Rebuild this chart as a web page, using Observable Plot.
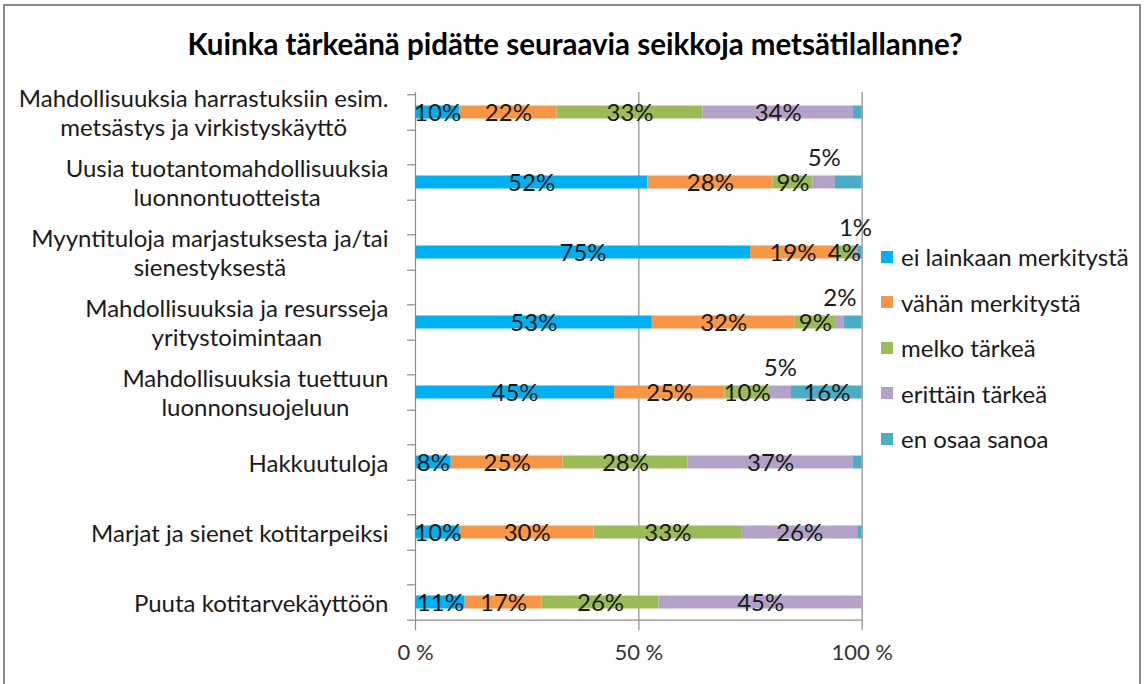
<!DOCTYPE html>
<html><head><meta charset="utf-8">
<script src="https://cdn.jsdelivr.net/npm/d3@7"></script>
<script src="https://cdn.jsdelivr.net/npm/@observablehq/plot@0.6"></script>
<style>
html,body{margin:0;padding:0;background:#fff;overflow:hidden}
#wrap{position:relative;width:1144px;height:684px;overflow:hidden;font-family:Lato,"Open Sans",sans-serif;color:#1a1a1a}
#frame{position:absolute;left:3px;top:4px;width:1138px;height:720px;border:2px solid #8a8a8a;box-sizing:border-box}
#title{position:absolute;left:0;width:1150px;top:28px;line-height:32px;text-align:center;font-weight:bold;font-size:29.5px;color:#000}
#chart{position:absolute;left:0;top:0}
#legend{position:absolute;left:881px;top:234px;font-size:24px}
.li{display:flex;align-items:center;height:45.5px;white-space:nowrap}
.sw{width:12px;height:12px;margin-right:8px;flex:none}
</style></head>
<body>
<div id="wrap">
  <div id="frame"></div>
  <div id="chart"></div>
  <div id="title">Kuinka tärkeänä pidätte seuraavia seikkoja metsätilallanne?</div>
  <div id="legend"></div>
</div>
<script>
// ---- data ----
const categories = [
  "Mahdollisuuksia harrastuksiin esim.\nmetsästys ja virkistyskäyttö",
  "Uusia tuotantomahdollisuuksia\nluonnontuotteista",
  "Myyntituloja marjastuksesta ja/tai\nsienestyksestä",
  "Mahdollisuuksia ja resursseja\nyritystoimintaan",
  "Mahdollisuuksia tuettuun\nluonnonsuojeluun",
  "Hakkuutuloja",
  "Marjat ja sienet kotitarpeiksi",
  "Puuta kotitarvekäyttöön"
];
const series = ["ei lainkaan merkitystä", "vähän merkitystä", "melko tärkeä", "erittäin tärkeä", "en osaa sanoa"];
const colors = ["#00B0F0", "#F79646", "#9BBB59", "#B3A2C7", "#4BACC6"];
const eiLainkaan = [10, 52, 75, 53, 45, 8, 10, 11];
const vahan      = [22, 28, 19, 32, 25, 25, 30, 17];
const melko      = [33, 9, 4, 9, 10, 28, 33, 26];
const erittain   = [34, 5, 1, 2, 5, 37, 26, 45];
const enOsaa     = [2, 6, 1, 4, 16, 2, 1, 0];
const xTicks = [0, 0.5, 1];
const xTickLabels = ["0 %", "50 %", "100 %"];

// ---- table ----
const seriesValues = [eiLainkaan, vahan, melko, erittain, enOsaa];
const rows = categories.flatMap((c, i) => series.map((s, j) => ({cat: c, series: s, value: seriesValues[j][i]})));

// label placement: small "erittäin tärkeä" values above the bar, small "en osaa sanoa" hidden
const labelAbove = d => d.series === series[3] && d.value < 8 && d.value > 0;
const labelInside = d => d.value > 0 && !labelAbove(d) && !(d.series === series[4] && d.value < 10);

const W = 1144, H = 684;
const left = 415, right = 861.7;
const tickLen = 8 / (right - left);
const labelFont = 24;
const ctx = document.createElement("canvas").getContext("2d");
ctx.font = `${labelFont}px Lato`;
const maxW = c => Math.max(...c.split("\n").map(l => ctx.measureText(l).width));

const stack = extra => Plot.stackX({x: "value", y: "cat", z: "series", offset: "normalize", ...extra});

const catMarks = categories.map(c => Plot.text([c], {
  y: d => d, text: d => d, frameAnchor: "left", textAnchor: "middle",
  dx: -(27 + maxW(c) / 2), fontSize: labelFont, lineHeight: 28.5 / labelFont, fill: "#1a1a1a"
}));

const chart = Plot.plot({
  width: W, height: H,
  marginTop: 92, marginBottom: 54, marginLeft: left, marginRight: W - right,
  style: {fontFamily: "Lato, sans-serif", fontSize: "22px", color: "#333", background: "transparent"},
  x: {domain: [0, 1], ticks: xTicks, tickFormat: d => xTickLabels[xTicks.indexOf(d)], tickSize: 0, tickPadding: 14, label: null},
  y: {type: "band", domain: categories, range: [73.5, 641], padding: 0, axis: null},
  color: {domain: series, range: colors},
  marks: [
    Plot.ruleX(xTicks, {stroke: "#8c8c8c", strokeWidth: 1.2}),
    Plot.ruleY(categories, {y: d => d, x1: -tickLen, x2: 0, dy: -17.7, stroke: "#8c8c8c", strokeWidth: 1.2}),
    Plot.ruleY(categories, {y: d => d, x1: -tickLen, x2: 0, dy: 17.7, stroke: "#8c8c8c", strokeWidth: 1.2}),
    Plot.ruleY(categories.slice(-1), {y: d => d, x1: 0, x2: 1, dy: 17.7, stroke: "#8c8c8c", strokeWidth: 1.2}),
    Plot.barX(rows, stack({fill: "series", insetTop: 28.5, insetBottom: 28.5})),
    Plot.text(rows, stack({text: d => labelInside(d) ? d.value + "%" : null, fontSize: 24, fill: "#1a1a1a", dy: 1})),
    Plot.text(rows, stack({text: d => labelAbove(d) ? d.value + "%" : null, fontSize: 24, fill: "#1a1a1a", dy: -24})),
    ...catMarks
  ]
});
document.getElementById("chart").appendChild(chart);

const lg = document.getElementById("legend");
series.forEach((s, i) => {
  const row = document.createElement("div");
  row.className = "li";
  const sw = document.createElement("span");
  sw.className = "sw";
  sw.style.background = colors[i];
  const t = document.createElement("span");
  t.textContent = s;
  row.append(sw, t);
  lg.appendChild(row);
});
</script>
</body></html>
